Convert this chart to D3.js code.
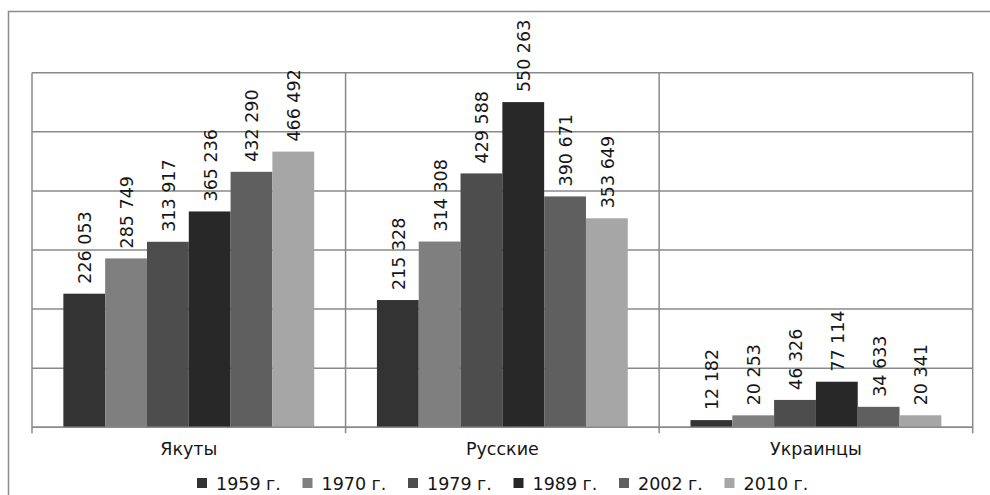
<!DOCTYPE html>
<html>
<head>
<meta charset="utf-8">
<script src="https://cdn.jsdelivr.net/npm/d3@7"></script>
<style>
  html, body { margin: 0; padding: 0; background: #fff; }
  svg { display: block; }
  text { font-family: "DejaVu Sans", Verdana, sans-serif; fill: #161616; }
</style>
</head>
<body>
<svg id="chart" width="990" height="495"></svg>
<script>
const categories = ["Якуты", "Русские", "Украинцы"];
const seriesNames = ["1959 г.", "1970 г.", "1979 г.", "1989 г.", "2002 г.", "2010 г."];
const v1959 = [226053, 215328, 12182];
const v1970 = [285749, 314308, 20253];
const v1979 = [313917, 429588, 46326];
const v1989 = [365236, 550263, 77114];
const v2002 = [432290, 390671, 34633];
const v2010 = [466492, 353649, 20341];
const seriesValues = [v1959, v1970, v1979, v1989, v2002, v2010];
const seriesColors = ["#333333", "#7f7f7f", "#4d4d4d", "#282828", "#5f5f5f", "#a6a6a6"];
const yTicks = [0, 100000, 200000, 300000, 400000, 500000, 600000];

(function () {
const svg = d3.select("#chart");
const pLeft = 32, pRight = 972.7, pTop = 72.7, pBottom = 427.3;
const gridColor = "#8a8a8a";
const fs = "17.5px";

const loc = d3.formatLocale({decimal: ",", thousands: " ", grouping: [3], currency: ["", ""]});
const fmt = loc.format(",d");

// outer border
svg.append("rect").attr("x", 8.5).attr("y", 11.5).attr("width", 1000).attr("height", 520)
  .attr("fill", "#fff").attr("stroke", "#8c8c8c").attr("stroke-width", 1.5);

const x = d3.scaleBand().domain(categories).range([pLeft, pRight]).padding(0);
const xs = d3.scaleBand().domain(seriesNames).range([0, x.bandwidth()]).paddingInner(0).paddingOuter(0.75);
const y = d3.scaleLinear().domain([0, 600000]).range([pBottom, pTop]);

// horizontal gridlines
svg.append("g").selectAll("line").data(yTicks).join("line")
  .attr("x1", pLeft).attr("x2", pRight)
  .attr("y1", d => y(d)).attr("y2", d => y(d))
  .attr("stroke", gridColor).attr("stroke-width", 1.5);

// vertical category lines (with ticks below axis)
const bounds = [pLeft].concat(categories.map(c => x(c) + x.bandwidth()));
svg.append("g").selectAll("line").data(bounds).join("line")
  .attr("x1", d => d).attr("x2", d => d)
  .attr("y1", pTop).attr("y2", pBottom + 6)
  .attr("stroke", gridColor).attr("stroke-width", 1.5);

// bars
const groups = svg.append("g").selectAll("g").data(seriesNames).join("g")
  .attr("fill", (d, i) => seriesColors[i]);
groups.selectAll("rect").data((s, i) => categories.map((c, j) => ({c, s, v: seriesValues[i][j]})))
  .join("rect")
  .attr("x", d => x(d.c) + xs(d.s))
  .attr("width", xs.bandwidth())
  .attr("y", d => y(d.v))
  .attr("height", d => y(0) - y(d.v));

// x axis baseline
svg.append("line").attr("x1", pLeft).attr("x2", pRight).attr("y1", pBottom).attr("y2", pBottom)
  .attr("stroke", gridColor).attr("stroke-width", 1.5);

// data labels
const labels = svg.append("g");
seriesNames.forEach((s, i) => {
  categories.forEach((c, j) => {
    const v = seriesValues[i][j];
    const cx = x(c) + xs(s) + xs.bandwidth() / 2 + 1;
    const cy = y(v) - 10;
    labels.append("text")
      .attr("transform", `translate(${cx},${cy}) rotate(-90)`)
      .attr("text-anchor", "start")
      .attr("dominant-baseline", "central")
      .style("font-size", fs)
      .text(fmt(v));
  });
});

// category labels
svg.append("g").selectAll("text").data(categories).join("text")
  .attr("x", d => x(d) + x.bandwidth() / 2)
  .attr("y", 455)
  .attr("text-anchor", "middle")
  .style("font-size", fs)
  .text(d => d);

// legend
const legend = svg.append("g");
seriesNames.forEach((s, i) => {
  const lx = 197 + i * 105.5;
  legend.append("rect").attr("x", lx).attr("y", 478).attr("width", 10).attr("height", 10)
    .attr("fill", seriesColors[i]);
  legend.append("text").attr("x", lx + 19).attr("y", 489.5)
    .style("font-size", fs).text(s);
});
})();
</script>
</body>
</html>
